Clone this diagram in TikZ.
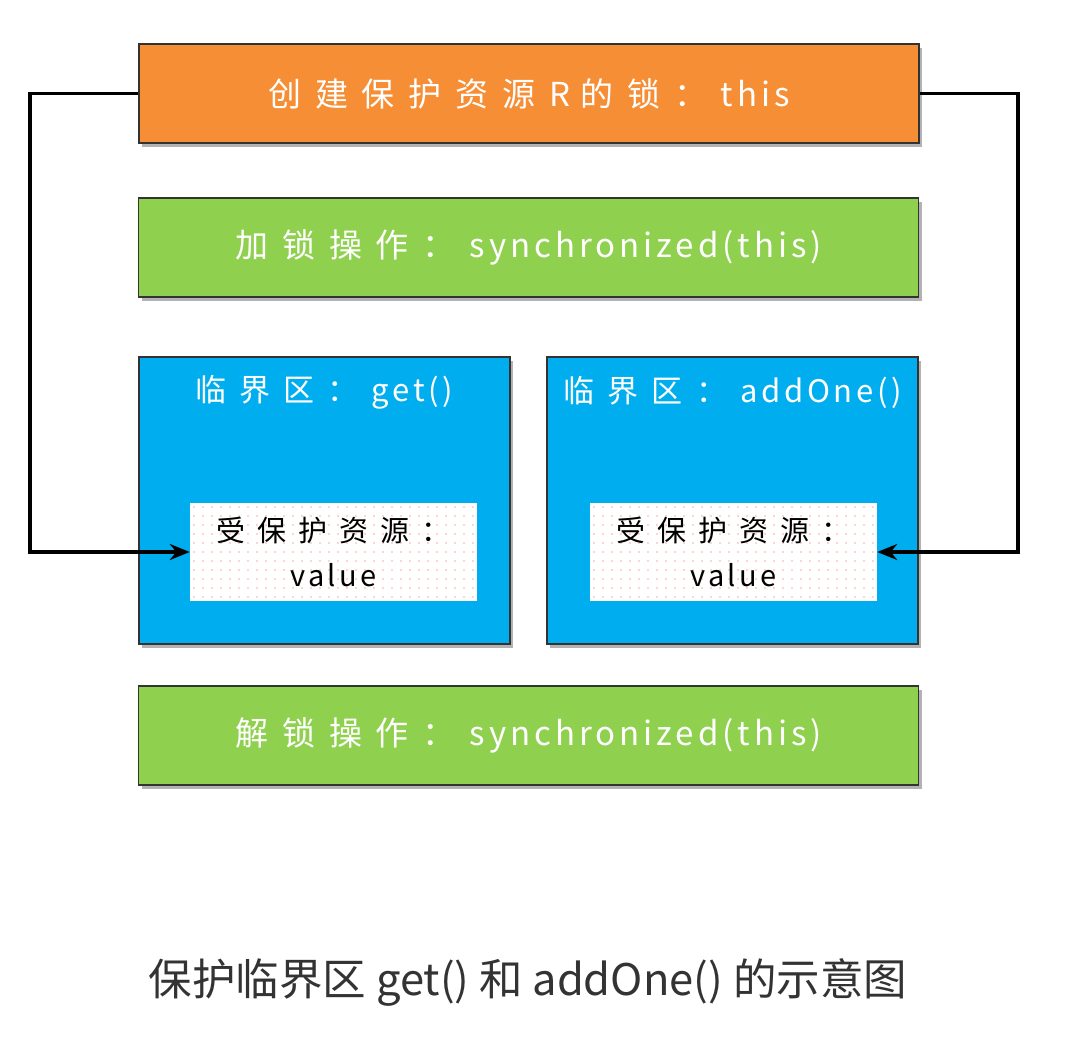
\documentclass[tikz,border=0pt]{standalone}
\usepackage{fontspec}
\setmainfont{Noto Sans CJK SC}
\newfontfamily\latfont[LetterSpace=12]{Noto Sans CJK SC}
\newfontfamily\cjkfont[LetterSpace=42]{Noto Sans CJK SC}
\newcommand{\cj}[1]{{\cjkfont #1\hspace{0.42em}}}
\usetikzlibrary{shadows,arrows.meta}
\definecolor{orangebox}{HTML}{F68E35}
\definecolor{greenbox}{HTML}{8FD14F}
\definecolor{bluebox}{HTML}{00AEEF}
\definecolor{dotpink}{HTML}{F7B09A}
\definecolor{edgegray}{HTML}{333333}
\definecolor{captiongray}{HTML}{333333}
\begin{document}
\begin{tikzpicture}[x=1pt,y=-1pt,
  shadowed/.style={drop shadow={shadow xshift=3pt,shadow yshift=-4pt,opacity=0.3,fill=black}},
  bar/.style={draw=edgegray, line width=1.8pt, shadowed, minimum width=780pt, minimum height=99pt, inner sep=0pt,
    text=white, font=\latfont\fontsize{33}{38}\selectfont},
  zone/.style={draw=edgegray, line width=1.8pt, shadowed, fill=bluebox, minimum width=371pt, minimum height=287pt, inner sep=0pt},
  zonetitle/.style={text=white, font=\latfont\fontsize{31}{36}\selectfont, inner sep=0pt},
  res/.style={fill=white, minimum width=287pt, minimum height=98pt, inner sep=0pt, align=center,
    font=\latfont\fontsize{29}{45}\selectfont, text=black,
    path picture={\foreach \i in {0,...,31}{\foreach \j in {0,...,10}{
      \fill[dotpink] ([xshift=\i*9pt+4pt, yshift=-\j*9pt-4pt]path picture bounding box.north west) circle (0.9pt);}}}},
  conn/.style={line width=3.2pt, draw=black, -{Stealth[length=20pt,width=16pt]}},
  caption/.style={text=captiongray, font=\fontsize{43.5}{50}\selectfont, inner sep=0pt}
]
\useasboundingbox (0,0) rectangle (1092,1044);

\node[bar, fill=orangebox] (lock) at (529,93.5) {\cj{创建保护资源}R\hspace{0.3em}\cj{的锁}\cj{：}this};
\node[bar, fill=greenbox] (acq) at (528.5,247.5) {\cj{加锁操作}\cj{：}synchronized(this)};
\node[zone] (zoneL) at (324.5,500.5) {};
\node[zone] (zoneR) at (732.5,500.5) {};
\node[zonetitle] (titleL) at (324.5,392) {\cj{临界区}\cj{：}get()};
\node[zonetitle] (titleR) at (733,392) {\cj{临界区}\cj{：}addOne()};
\node[res] (resL) at (333.5,552) {{\cjkfont 受保护资源：}\\value};
\node[res] (resR) at (733.5,552) {{\cjkfont 受保护资源：}\\value};
\node[bar, fill=greenbox] (rel) at (528.5,735.5) {\cj{解锁操作}\cj{：}synchronized(this)};
\node[caption] (cap) at (528,982) {保护临界区 get() 和 addOne() 的示意图};

\coordinate (lx) at (30,0);
\coordinate (rx) at (1018,0);
\draw[conn] (lock.west) -- (lock.west -| lx) -- (lx |- resL.west) -- (resL.west);
\draw[conn] (lock.east) -- (lock.east -| rx) -- (rx |- resR.east) -- (resR.east);
\end{tikzpicture}
\end{document}
